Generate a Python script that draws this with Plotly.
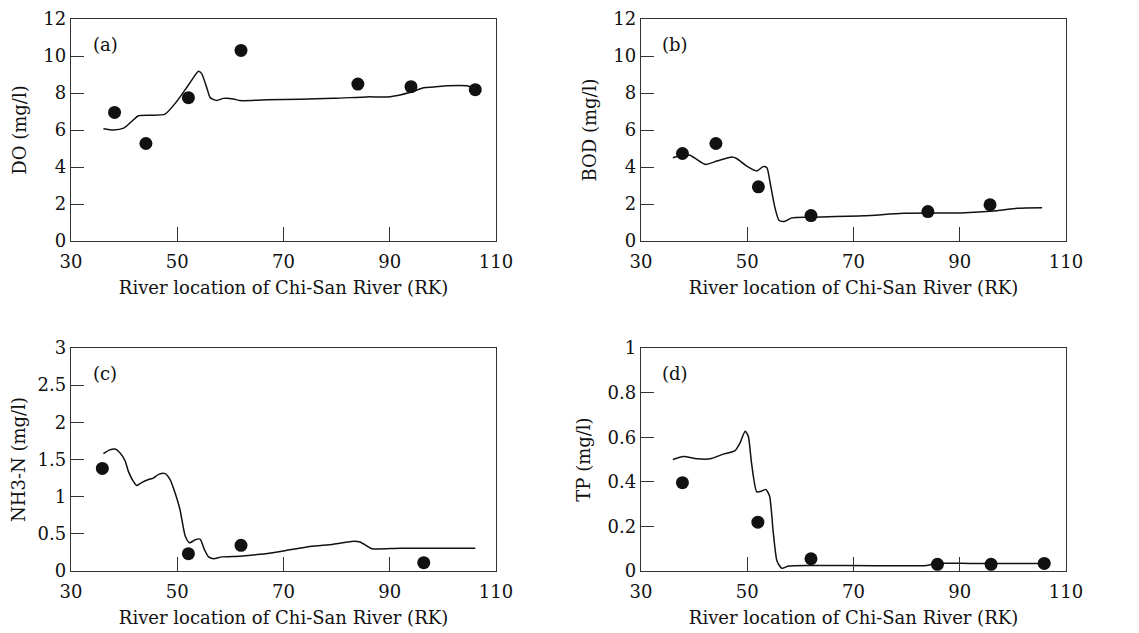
import plotly.graph_objects as go

# ---------------- data ----------------
do_obs_x = [38.2, 44.1, 52.1, 62.0, 84.0, 94.0, 106.1]
do_obs_y = [6.95, 5.27, 7.75, 10.3, 8.48, 8.34, 8.18]
do_sim_x = [36.1, 38.0, 39.9, 41.4, 42.7, 44.9, 47.7, 49.9, 52.1, 54.0, 54.6, 55.6, 56.2, 57.4, 58.7,
            60.6, 61.8, 66.9, 79.4, 85.7, 90.1, 93.9, 96.4, 98.3, 100.8, 104.5, 106.1]
do_sim_y = [6.07, 6.0, 6.1, 6.46, 6.77, 6.8, 6.86, 7.54, 8.43, 9.18, 9.05, 8.25, 7.75, 7.6, 7.71,
            7.68, 7.59, 7.63, 7.71, 7.79, 7.8, 8.04, 8.29, 8.32, 8.39, 8.39, 8.21]

bod_obs_x = [37.8, 44.1, 52.1, 62.0, 84.0, 95.7]
bod_obs_y = [4.73, 5.27, 2.93, 1.375, 1.59, 1.96]
bod_sim_x = [36.0, 37.7, 39.2, 40.5, 42.1, 44.3, 47.1, 48.0, 49.9, 51.8, 53.0, 53.7, 54.3, 55.2, 56.0,
             57.1, 58.4, 61.8, 71.9, 79.4, 90.1, 97.0, 100.8, 105.5]
bod_sim_y = [4.5, 4.64, 4.64, 4.41, 4.14, 4.32, 4.54, 4.46, 4.05, 3.79, 4.02, 3.96, 3.16, 1.82, 1.11,
             1.07, 1.25, 1.29, 1.36, 1.5, 1.52, 1.64, 1.77, 1.8]

nh3_obs_x = [35.9, 52.1, 62.0, 96.4]
nh3_obs_y = [1.38, 0.233, 0.345, 0.112]
nh3_sim_x = [36.1, 37.3, 38.3, 39.2, 40.2, 40.8, 41.7, 42.4, 43.3, 44.6, 45.5, 46.5, 47.7, 48.65, 49.6,
             50.5, 51.5, 52.3, 53.4, 54.3, 55.1, 55.9, 56.8, 58.4, 61.8, 65.6, 70.0, 75.0, 79.4, 83.2,
             84.4, 85.7, 86.6, 92.0, 106.1]
nh3_sim_y = [1.58, 1.63, 1.64, 1.59, 1.48, 1.34, 1.21, 1.15, 1.19, 1.23, 1.25, 1.30, 1.31, 1.23, 1.05,
             0.83, 0.47, 0.38, 0.42, 0.43, 0.29, 0.19, 0.166, 0.19, 0.2, 0.224, 0.27, 0.33, 0.36, 0.40,
             0.39, 0.336, 0.30, 0.305, 0.305]

tp_obs_x = [37.8, 52.0, 62.0, 85.8, 95.9, 105.9]
tp_obs_y = [0.396, 0.219, 0.055, 0.03, 0.03, 0.034]
tp_sim_x = [36.0, 38.0, 40.5, 43.0, 45.5, 47.7, 48.65, 49.6, 50.2, 50.8, 51.8, 52.7, 53.5, 54.2, 54.9,
            55.6, 56.5, 57.8, 61.8, 83.8, 85.7, 92.0, 106.1]
tp_sim_y = [0.5, 0.513, 0.503, 0.503, 0.524, 0.54, 0.575, 0.627, 0.604, 0.485, 0.355, 0.358, 0.366, 0.336, 0.172,
            0.045, 0.012, 0.022, 0.025, 0.025, 0.034, 0.034, 0.034]

x_ticks = [30, 50, 70, 90, 110]
x_title = "River location of Chi-San River (RK)"

panels = [
    dict(label="(a)", ytitle="DO (mg/l)", yrange=[0, 12], yticks=[0, 2, 4, 6, 8, 10, 12],
         sx=do_sim_x, sy=do_sim_y, ox=do_obs_x, oy=do_obs_y),
    dict(label="(b)", ytitle="BOD (mg/l)", yrange=[0, 12], yticks=[0, 2, 4, 6, 8, 10, 12],
         sx=bod_sim_x, sy=bod_sim_y, ox=bod_obs_x, oy=bod_obs_y),
    dict(label="(c)", ytitle="NH3-N (mg/l)", yrange=[0, 3], yticks=[0, 0.5, 1, 1.5, 2, 2.5, 3],
         sx=nh3_sim_x, sy=nh3_sim_y, ox=nh3_obs_x, oy=nh3_obs_y),
    dict(label="(d)", ytitle="TP (mg/l)", yrange=[0, 1], yticks=[0, 0.2, 0.4, 0.6, 0.8, 1],
         sx=tp_sim_x, sy=tp_sim_y, ox=tp_obs_x, oy=tp_obs_y),
]

OFF = 8  # default page body margin
W, H = 1139 - OFF, 633 - OFF
# target page-pixel boxes (left, right, top, bottom)
boxes = [(71, 496, 19, 241), (641, 1066, 19, 241), (71, 496, 348, 571), (641, 1066, 348, 571)]

FONT = "DejaVu Serif, Liberation Serif, serif"
INK = "#111111"

fig = go.Figure()
layout = dict(
    width=W, height=H, margin=dict(l=0, r=0, t=0, b=0, autoexpand=False),
    paper_bgcolor="white", plot_bgcolor="white", showlegend=False,
    font=dict(family=FONT, size=18, color=INK),
)
annotations = []
for i, (p, b) in enumerate(zip(panels, boxes)):
    n = i + 1
    xa = "x" if n == 1 else f"x{n}"
    ya = "y" if n == 1 else f"y{n}"
    fig.add_trace(go.Scatter(x=p["sx"], y=p["sy"], mode="lines", xaxis=xa, yaxis=ya,
                             line=dict(color=INK, width=1.5, shape="spline", smoothing=0.6)))
    fig.add_trace(go.Scatter(x=p["ox"], y=p["oy"], mode="markers", xaxis=xa, yaxis=ya,
                             marker=dict(color=INK, size=13)))
    l, r, t, bt = b
    xdom = [(l - OFF) / W, (r - OFF) / W]
    ydom = [1 - (bt - OFF) / H, 1 - (t - OFF) / H]
    xkey = "xaxis" if n == 1 else f"xaxis{n}"
    ykey = "yaxis" if n == 1 else f"yaxis{n}"
    layout[xkey] = dict(domain=xdom, anchor=ya, range=[30, 110], tickvals=x_ticks,
                        ticks="inside", ticklen=14, tickwidth=1.2, tickcolor="#333",
                        showline=True, linecolor="#333", linewidth=1.3, mirror=True,
                        showgrid=False, zeroline=False, automargin=False,
                        ticklabeloverflow="allow", ticklabelstandoff=4,
                        tickfont=dict(family=FONT, size=18, color=INK),
                        title=dict(text=x_title, font=dict(family=FONT, size=18, color=INK), standoff=10))
    layout[ykey] = dict(domain=ydom, anchor=xa, range=p["yrange"], tickvals=p["yticks"],
                        ticks="inside", ticklen=13, tickwidth=1.2, tickcolor="#333",
                        showline=True, linecolor="#333", linewidth=1.3, mirror=True,
                        showgrid=False, zeroline=False, automargin=False,
                        ticklabeloverflow="allow",
                        tickfont=dict(family=FONT, size=18, color=INK),
                        title=dict(text=p["ytitle"], font=dict(family=FONT, size=18, color=INK), standoff=12))
    annotations.append(dict(text=p["label"], xref=f"{xa} domain", yref=f"{ya} domain",
                            x=0.08, y=0.884, xanchor="center", yanchor="middle", showarrow=False,
                            font=dict(family=FONT, size=18, color=INK)))
layout["annotations"] = annotations
fig.update_layout(**layout)
fig.write_html("out.html")
